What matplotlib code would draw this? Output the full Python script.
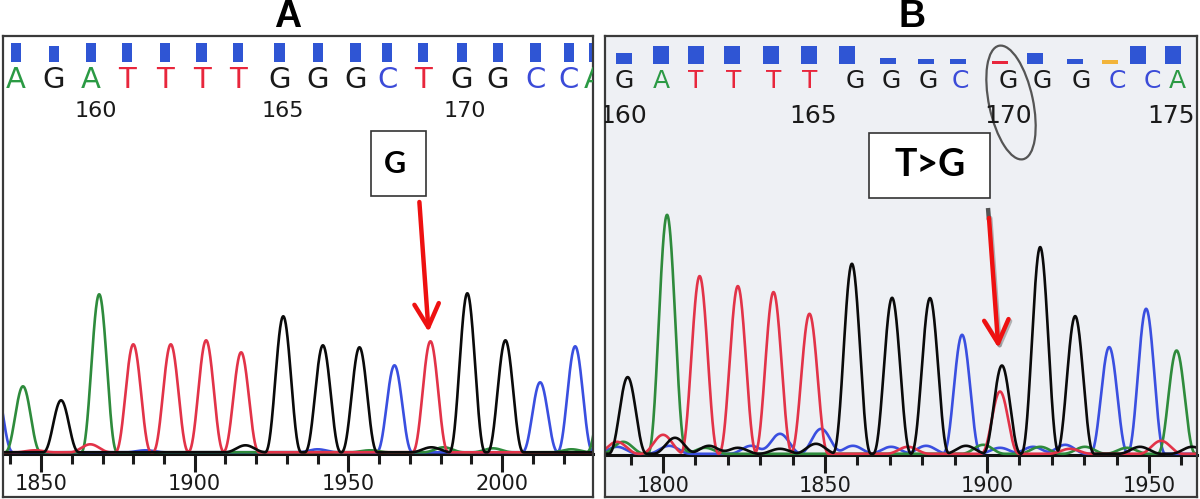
import numpy as np
import matplotlib
matplotlib.use("Agg")
import matplotlib.pyplot as plt
from matplotlib.patches import Rectangle, Ellipse
from matplotlib.transforms import Affine2D

# ---- panel A (wild type) ----
a_xlim = (1837.6, 2029.6)
a_peak_x = [1835.0, 1844.1, 1856.5, 1868.9, 1880.0, 1892.2, 1903.7, 1915.1, 1928.8,
            1941.7, 1953.6, 1965.0, 1976.7, 1988.7, 2001.1, 2012.4, 2023.8, 2033.5]
a_peak_h = [70, 66, 52, 158, 108, 108, 112, 100, 136, 107, 105, 87, 111, 159, 112, 70, 106, 80]
a_peak_base = "CAGATTTTGGGCTGGCCA"
a_noise_x = [1848.0, 1866.0, 1884.0, 1916.5, 1940.0, 1957.0, 1977.0, 1981.0, 1997.0, 2022.6]
a_noise_h = [2, 8, 2, 7, 3, 2, 5, 5, 4, 3]
a_noise_base = "TTCGCAGAAA"
a_calls = "AGATTTTGGGCTGGCCA"
a_call_x = [1841.8, 1854.2, 1866.3, 1878.0, 1890.3, 1902.2, 1914.2, 1927.6, 1940.0,
            1952.3, 1962.6, 1974.3, 1987.0, 1998.6, 2010.9, 2021.7, 2029.8]
a_qual_h = [19, 15.7, 19, 19, 19, 19, 19, 19, 19, 19, 19, 19, 19, 19, 19, 19, 19]
a_num = ["160", "165", "170"]
a_num_x = [1867.9, 1928.5, 1987.8]
a_ticks = [1850, 1900, 1950, 2000]

# ---- panel B (mutant) ----
b_xlim = (1782.1, 1964.8)
b_peak_x = [1789.1, 1801.2, 1811.3, 1823.1, 1834.1, 1845.2, 1858.3, 1870.7, 1882.4,
            1892.3, 1904.6, 1904.0, 1916.4, 1927.2, 1937.7, 1949.1, 1958.5]
b_peak_h = [76.7, 231, 177.7, 167.7, 161.7, 140, 190, 156, 155.7,
            119, 88.3, 62.3, 206.7, 137.7, 106.7, 145, 103.3]
b_peak_base = "GATTTTGGGCGTGGCCA"
b_noise_x = [1785.8, 1787.7, 1785.8, 1800.0, 1803.7, 1803.1, 1801.9, 1814.2, 1813.0,
             1823.1, 1827.2, 1836.1, 1836.1, 1847.2, 1848.8, 1858.6, 1870.4, 1875.6,
             1881.2, 1893.5, 1898.8, 1904.0, 1914.2, 1916.4, 1924.1, 1930.2, 1925.6,
             1943.2, 1947.2, 1953.7, 1963.3]
b_noise_h = [12, 12, 7, 19, 16, 10, 8, 8, 6, 6, 8, 20, 5, 10, 25, 8, 7, 7,
             8, 8, 9, 6, 7, 7, 9, 7, 5, 6, 7, 13, 7]
b_noise_base = "TACTGACGAGCCGGCCCTCGACCACATAGTG"
b_calls = "GATTTTGGGCGGGCCA"
b_call_x = [1788.0, 1799.4, 1810.2, 1821.9, 1834.3, 1845.4, 1859.3, 1870.4, 1881.8,
            1891.7, 1906.5, 1917.0, 1929.0, 1940.1, 1950.9, 1958.6]
b_qual_x = [1787.9, 1799.4, 1810.2, 1821.3, 1833.2, 1845.1, 1856.8, 1869.4, 1881.1,
            1891.0, 1904.0, 1914.8, 1927.2, 1938.0, 1946.6, 1957.4]
b_qual_h = [10.7, 17.3, 17.3, 17.3, 17.3, 17.3, 17.3, 6, 5, 5, 2.6, 10.6, 5, 3.3, 17.3, 17.3]
b_qual_col = ["#2f55d4"] * 10 + ["#e8263c", "#2f55d4", "#2f55d4", "#f2b43a", "#2f55d4", "#2f55d4"]
b_num = ["160", "165", "170", "175"]
b_num_x = [1787.8, 1846.3, 1906.5, 1956.8]
b_ticks = [1800, 1850, 1900, 1950]

trace_col = {"A": "#2e8b3c", "C": "#3a4fe0", "G": "#0a0a0a", "T": "#e23348"}
call_col = {"A": "#2b9a44", "C": "#3b4bd8", "G": "#1a1a1a", "T": "#e8263c"}

W, H = 1200, 499
fig = plt.figure(figsize=(12, 4.99), dpi=100)
fig.patch.set_facecolor("white")


def make_axes(left, right, top, bottom, base, xlim, bg):
    ax = fig.add_axes([left / W, 1 - bottom / H, (right - left) / W, (bottom - top) / H])
    ax.set_facecolor(bg)
    ax.set_xlim(*xlim)
    ax.set_ylim(base - bottom, base - top)
    ax.set_xticks([])
    ax.set_yticks([])
    for s in ax.spines.values():
        s.set_color("#3a3a3a")
        s.set_linewidth(1.6)
    return ax


def peak(xs, x0, h0, w):
    # smooth bell that falls to zero at +-w
    d = np.clip(np.abs(xs - x0) / w, 0, 1)
    return h0 * np.cos(d * np.pi / 2) ** 2.5


def draw_traces(ax, xlim, px, ph, pb, nx, nh, nb, w):
    xs = np.linspace(xlim[0] - 4, xlim[1] + 4, 2500)
    for b in "CATG":
        y = np.full_like(xs, 1.2)
        for x0, h0, c in zip(px, ph, pb):
            if c == b:
                y += peak(xs, x0, h0, w)
        for x0, h0, c in zip(nx, nh, nb):
            if c == b:
                y += peak(xs, x0, h0, 7.0)
        ax.plot(xs, y, color=trace_col[b], lw=1.9, solid_joinstyle="round")


def draw_axis(ax, base, bottom, top, ticks, lo, hi):
    sec = ax.secondary_xaxis((bottom - base) / (bottom - top))
    sec.spines["bottom"].set_linewidth(2.2)
    sec.spines["bottom"].set_color("#111")
    sec.set_xticks(ticks)
    sec.set_xticks(np.arange(lo, hi, 10), minor=True)
    sec.tick_params(which="major", length=13, width=2.2, direction="out",
                    labelsize=15, pad=2, colors="#1a1a1a")
    sec.tick_params(which="minor", length=7, width=2.2, direction="out", colors="#1a1a1a")
    for lab in sec.get_xticklabels():
        lab.set_fontfamily("DejaVu Sans")


# ---------------- panel A ----------------
a_base = 453.5
axA = make_axes(3, 593, 36, 497, a_base, a_xlim, "white")
draw_traces(axA, a_xlim, a_peak_x, a_peak_h, a_peak_base,
            a_noise_x, a_noise_h, a_noise_base, 6.0)
draw_axis(axA, a_base, 497, 36, a_ticks, 1840, 2030)
axA.bar(a_call_x, a_qual_h, width=3.3, bottom=a_base - 61.7, color="#2f55d4",
        edgecolor="none")
for x, c in zip(a_call_x, a_calls):
    axA.text(x, a_base - 80, c, color=call_col[c], fontsize=21, ha="center",
             va="center", family="DejaVu Sans", clip_on=True)
for x, t in zip(a_num_x, a_num):
    axA.text(x, a_base - 111, t, color="#1a1a1a", fontsize=16, ha="center",
             va="center", family="DejaVu Sans", clip_on=True)
axA.add_patch(Rectangle((1957.5, a_base - 196), 17.9, 65, facecolor="white",
                        edgecolor="#333", lw=1.2, zorder=5))
axA.text(1965.3, a_base - 164, "G", fontsize=22, fontweight="bold", family="Lato",
         ha="center", va="center", zorder=6)
axA.annotate("", xy=(1976.1, a_base - 332), xytext=(1973.1, a_base - 202),
             arrowprops=dict(arrowstyle="->,head_length=0.42,head_width=0.22",
                             color="#ee1111", lw=3.2, mutation_scale=40,
                             shrinkA=0, shrinkB=0), zorder=6)

# ---------------- panel B ----------------
b_base = 455.0
axB = make_axes(605, 1197, 36, 497, b_base, b_xlim, "#eef0f4")
draw_traces(axB, b_xlim, b_peak_x, b_peak_h, b_peak_base,
            b_noise_x, b_noise_h, b_noise_base, 6.0)
draw_axis(axB, b_base, 497, 36, b_ticks, 1790, 1965)
# cut-off scale numbers at the very top of the scan
for t in b_ticks:
    axB.text(t - 2, b_base - 39, str(t), color="#333", fontsize=15, ha="center",
             va="bottom", family="DejaVu Sans", clip_on=True)
axB.bar(b_qual_x, b_qual_h, width=4.9, bottom=b_base - 63.5, color=b_qual_col,
        edgecolor="none")
for x, c in zip(b_call_x, b_calls):
    axB.text(x, b_base - 81, c, color=call_col[c], fontsize=18, ha="center",
             va="center", family="DejaVu Sans", clip_on=True)
for x, t in zip(b_num_x, b_num):
    axB.text(x, b_base - 116, t, color="#1a1a1a", fontsize=18, ha="center",
             va="center", family="DejaVu Sans", clip_on=True)
# pencil circle round position 170
circ = Ellipse((0, 0), 44, 116, angle=12, fill=False, edgecolor="#555", lw=1.6,
               transform=Affine2D().scale(1 / 3.24, 1).translate(1907.4, b_base - 102.5)
               + axB.transData)
axB.add_patch(circ)
axB.add_patch(Rectangle((1863.7, b_base - 198), 37.2, 64.7, facecolor="white",
                        edgecolor="#333", lw=1.2, zorder=5))
axB.text(1882.4, b_base - 165, "T>G", fontsize=27, fontweight="bold", family="Lato",
         ha="center", va="center", zorder=6)
axB.plot([1900.3, 1900.6], [b_base - 208, b_base - 220], color="#555", lw=3.2,
         solid_capstyle="butt", zorder=6)
axB.annotate("", xy=(1904.0, b_base - 350), xytext=(1901.0, b_base - 218),
             arrowprops=dict(arrowstyle="->,head_length=0.42,head_width=0.22",
                             color="#888", lw=3.2, mutation_scale=40, alpha=0.6,
                             shrinkA=0, shrinkB=0), zorder=5)
axB.annotate("", xy=(1903.5, b_base - 348), xytext=(1900.6, b_base - 218),
             arrowprops=dict(arrowstyle="->,head_length=0.42,head_width=0.22",
                             color="#ee1111", lw=3.2, mutation_scale=40,
                             shrinkA=0, shrinkB=0), zorder=6)

# panel letters
fig.text(288 / W, 1 - 17 / H, "A", fontsize=27, fontweight="bold",
         family="Liberation Sans", ha="center", va="center")
fig.text(912 / W, 1 - 17 / H, "B", fontsize=27, fontweight="bold",
         family="Liberation Sans", ha="center", va="center")

fig.savefig("out.png", dpi=100, facecolor="white")
